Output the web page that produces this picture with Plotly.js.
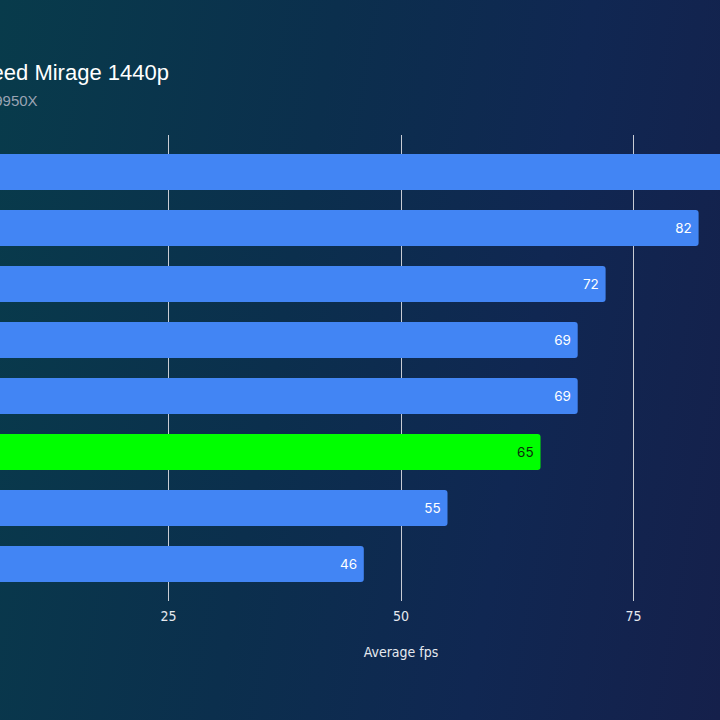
<!DOCTYPE html>
<html>
<head>
<meta charset="utf-8">
<script src="https://cdn.plot.ly/plotly-3.0.1.min.js"></script>
<style>
  html, body { margin:0; padding:0; width:720px; height:720px; overflow:hidden; }
  body { background: linear-gradient(100deg, #083b4b 0%, #0b2f4d 40%, #102752 70%, #15204b 100%); position:relative; }
  #chart { position:absolute; left:-300px; top:0; width:1200px; height:720px; }
</style>
</head>
<body>
<div id="chart"></div>
<script>
const categories = ["RX 9070 XT", "RTX 5070", "RX 7800 XT", "RTX 4070", "RX 7700 XT", "RX 9060 XT 16GB", "RTX 4060 Ti 16GB", "RTX 5060"];
const fps = [88, 82, 72, 69, 69, 65, 55, 46];
const highlight = [false, false, false, false, false, true, false, false];
const tickValues = [25, 50, 75];

const blue = "#4285f4";
const green = "#00ff00";

const trace = {
  type: "bar",
  orientation: "h",
  y: categories,
  x: fps,
  marker: { color: highlight.map(h => h ? green : blue) },
  text: fps.map(v => v + "\u00a0"),
  textposition: "inside",
  insidetextanchor: "end",
  textangle: 0,
  textfont: { family: "Inter, Roboto, sans-serif", size: 13.5, color: highlight.map(h => h ? "#0c2a0c" : "#ffffff") },
  cliponaxis: false,
  hoverinfo: "none"
};

const axisFont = "Liberation Sans Narrow, DejaVu Sans Condensed, sans-serif";

const layout = {
  width: 1200, height: 720,
  margin: { l: 235.5, r: 33.5, t: 135, b: 119 },
  paper_bgcolor: "rgba(0,0,0,0)",
  plot_bgcolor: "rgba(0,0,0,0)",
  showlegend: false,
  bargap: 0.357,
  barcornerradius: 3,
  xaxis: {
    range: [0, 100],
    tickvals: tickValues,
    ticks: "",
    ticklabelstandoff: 5,
    showgrid: true,
    gridcolor: "#c8ccd4",
    gridwidth: 1,
    zeroline: false,
    showline: false,
    tickfont: { family: axisFont, size: 14, color: "#e6e9ef" },
    title: { text: "Average fps", font: { family: axisFont, size: 14, color: "#e6e9ef" }, standoff: 24 },
    fixedrange: true
  },
  yaxis: {
    type: "category",
    range: [7.66, -0.66],
    showgrid: false,
    zeroline: false,
    showline: false,
    ticks: "",
    tickfont: { family: "Liberation Sans", size: 14, color: "#ffffff" },
    fixedrange: true
  },
  annotations: [
    { text: "Assassin's Creed Mirage 1440p", xref: "paper", yref: "paper", x: 0.2526, y: 1.135, xanchor: "right", yanchor: "middle", showarrow: false,
      font: { family: "Liberation Sans, Arial, sans-serif", size: 22, color: "#ffffff" } },
    { text: "Ryzen 9 9950X", xref: "paper", yref: "paper", x: 0.1123, y: 1.075, xanchor: "right", yanchor: "middle", showarrow: false,
      font: { family: "Liberation Sans, Arial, sans-serif", size: 15, color: "#9aa3b3" } }
  ]
};

Plotly.newPlot("chart", [trace], layout, { displayModeBar: false, staticPlot: true });
</script>
</body>
</html>
